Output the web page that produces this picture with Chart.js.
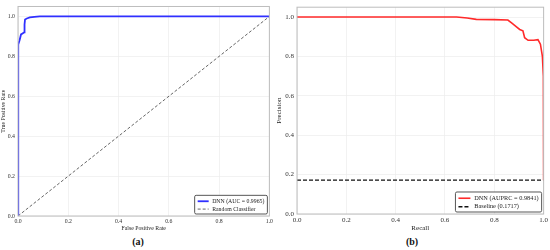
<!DOCTYPE html>
<html lang="en">
<head>
<meta charset="UTF-8">
<title>ROC and PR curves</title>
<script src="https://cdn.jsdelivr.net/npm/chart.js@4/dist/chart.umd.min.js"></script>
<style>
    body { margin: 0; background: #fff; width: 550px; height: 250px; position: relative; overflow: hidden; }
    canvas { position: absolute; top: 0; }
    #rocCanvas { left: 0; }
    #prCanvas { left: 275px; }
    .caption { position: absolute; top: 236px; font: bold 10px "Liberation Serif", serif; color: #111; transform: translateX(-50%); }
</style>
</head>
<body>
<canvas id="rocCanvas" width="275" height="235"></canvas>
<canvas id="prCanvas" width="275" height="235"></canvas>
<div class="caption" style="left:138px">(a)</div>
<div class="caption" style="left:412px">(b)</div>

<script>
    // ROC curve (panel a)
    const fprValues = [0, 0, 0.002, 0.006, 0.012, 0.018, 0.024, 0.026, 0.028, 0.035, 0.047, 0.065, 0.087, 1.0];
    const tprValues = [0, 0.85, 0.86, 0.88, 0.91, 0.915, 0.92, 0.96, 0.985, 0.99, 0.995, 0.998, 1.0, 1.0];
    const diagonalValues = [0, 1];

    // Precision-recall curve (panel b)
    const recallValues = [0, 0.647, 0.69, 0.727, 0.80, 0.855, 0.87, 0.89, 0.903, 0.916, 0.92, 0.923, 0.937, 0.96, 0.977, 0.987, 0.995, 0.999, 1.0, 1.0];
    const precisionValues = [1, 1, 0.995, 0.988, 0.987, 0.985, 0.97, 0.95, 0.937, 0.93, 0.91, 0.895, 0.882, 0.882, 0.885, 0.862, 0.80, 0.70, 0.55, 0.1717];
    const baselineValue = 0.1717;

    const tickValues = [0, 0.2, 0.4, 0.6, 0.8, 1.0];
    const rocLabels = ["DNN (AUC = 0.9965)", "Random Classifier"];
    const prLabels = ["DNN (AUPRC = 0.9841)", "Baseline (0.1717)"];

    const serif = "'Liberation Serif', 'DejaVu Serif', serif";

    function toPoints(xs, ys) {
        return xs.map((x, i) => ({ x: x, y: ys[i] }));
    }

    // grey frame around the plot area
    const framePlugin = {
        id: "frame",
        afterDraw(chart) {
            const a = chart.chartArea;
            const ctx = chart.ctx;
            ctx.save();
            ctx.strokeStyle = "#bdbdbd";
            ctx.lineWidth = 1;
            ctx.strokeRect(a.left, a.top, a.right - a.left, a.bottom - a.top);
            ctx.restore();
        }
    };

    // matplotlib-like legend in the lower right corner
    function boxLegend(fontSize) {
        return {
            id: "boxLegend",
            afterDraw(chart) {
                const ctx = chart.ctx;
                const a = chart.chartArea;
                const sets = chart.data.datasets;
                ctx.save();
                ctx.font = fontSize + "px " + serif;
                let textW = 0;
                sets.forEach(ds => { textW = Math.max(textW, ctx.measureText(ds.label).width); });
                const pad = 3, sample = fontSize * 1.9, gap = fontSize * 0.6, row = fontSize * 1.35;
                const w = pad + sample + gap + textW + pad;
                const h = pad + row * sets.length;
                const x = a.right - 2 - w;
                const y = a.bottom - 2 - h;
                ctx.fillStyle = "#fff";
                ctx.strokeStyle = "#444";
                ctx.lineWidth = 0.9;
                ctx.beginPath();
                ctx.roundRect(x, y, w, h, 1.5);
                ctx.fill();
                ctx.stroke();
                sets.forEach((ds, i) => {
                    const cy = y + pad + row * i + row / 2 - 1;
                    ctx.strokeStyle = ds.borderColor;
                    ctx.lineWidth = ds.borderWidth;
                    ctx.setLineDash(ds.borderDash || []);
                    ctx.beginPath();
                    ctx.moveTo(x + pad, cy);
                    ctx.lineTo(x + pad + sample, cy);
                    ctx.stroke();
                    ctx.setLineDash([]);
                    ctx.fillStyle = "#222";
                    ctx.textBaseline = "middle";
                    ctx.fillText(ds.label, x + pad + sample + gap, cy);
                });
                ctx.restore();
            }
        };
    }

    function makeScales(xTitle, yTitle, yWidth, xHeight, fontSize) {
        const grid = { color: "#ececec", lineWidth: 0.7, drawTicks: false };
        return {
            x: {
                type: "linear", min: 0, max: 1,
                grid: grid, border: { display: false },
                afterBuildTicks: s => { s.ticks = tickValues.map(v => ({ value: v })); },
                afterFit: s => { s.height = xHeight; },
                ticks: { padding: 2, color: "#333", font: { family: serif, size: fontSize }, maxRotation: 0, callback: v => v.toFixed(1) },
                title: { display: true, text: xTitle, color: "#222", font: { family: serif, size: fontSize }, padding: { top: 0, bottom: 3 } }
            },
            y: {
                type: "linear", min: 0, max: 1.05,
                grid: grid, border: { display: false },
                afterBuildTicks: s => { s.ticks = tickValues.map(v => ({ value: v })); },
                afterFit: s => { s.width = yWidth; },
                ticks: { padding: 3, color: "#333", font: { family: serif, size: fontSize }, callback: v => v.toFixed(1) },
                title: { display: true, text: yTitle, color: "#222", font: { family: serif, size: fontSize }, padding: { top: 0, bottom: 1 } }
            }
        };
    }

    function baseOptions(padding, scales) {
        return {
            responsive: false,
            animation: false,
            layout: { padding: padding },
            plugins: { legend: { display: false }, tooltip: { enabled: false } },
            elements: { point: { radius: 0 }, line: { tension: 0 } },
            scales: scales
        };
    }

    new Chart(document.getElementById("rocCanvas"), {
        type: "scatter",
        data: {
            datasets: [
                { label: rocLabels[0], data: toPoints(fprValues, tprValues), showLine: true, borderColor: "#3030ff", borderWidth: 1.8 },
                { label: rocLabels[1], data: toPoints(diagonalValues, diagonalValues), showLine: true, borderColor: "#555", borderWidth: 0.9, borderDash: [3, 2] }
            ]
        },
        options: baseOptions({ top: 4, right: 3, left: 0, bottom: 0 }, makeScales("False Positive Rate", "True Positive Rate", 18, 19, 5.8)),
        plugins: [framePlugin, boxLegend(5.8)]
    });

    new Chart(document.getElementById("prCanvas"), {
        type: "scatter",
        data: {
            datasets: [
                { label: prLabels[0], data: toPoints(recallValues, precisionValues), showLine: true, borderColor: "#ff2a2a", borderWidth: 1.6 },
                { label: prLabels[1], data: toPoints([0, 1], [baselineValue, baselineValue]), showLine: true, borderColor: "#111", borderWidth: 1.3, borderDash: [4, 2] }
            ]
        },
        options: baseOptions({ top: 4, right: 5, left: 0, bottom: 0 }, makeScales("Recall", "Precision", 22, 21, 7)),
        plugins: [framePlugin, boxLegend(6.3)]
    });
</script>
</body>
</html>
